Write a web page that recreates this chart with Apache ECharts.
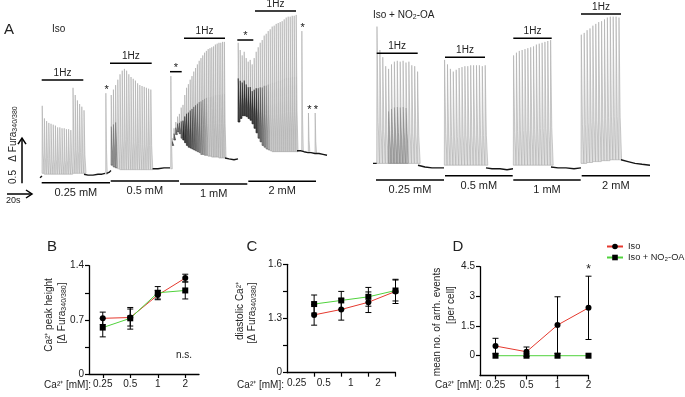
<!DOCTYPE html>
<html>
<head>
<meta charset="utf-8">
<script src="https://cdn.jsdelivr.net/npm/echarts@6.0.0/dist/echarts.min.js"></script>
<style>html,body{margin:0;padding:0;background:#fff;}#chart{width:685px;height:397px;}</style>
</head>
<body>
<div id="chart"></div>
<script>
// ======================= DATA =======================
const concLabels = ['0.25', '0.5', '1', '2'];
const nameIso = 'Iso';
const nameNo2 = 'Iso + NO₂-OA';

// ---- Panel A, Iso cell: paced Ca2+ transients (time along trace, ΔFura340/380) ----
const isoSeg1Start = 4,   isoSeg1Step = 2.2;
const isoSeg1Peaks = [0.88,0.74,0.71,0.69,0.68,0.67,0.66,0.64,0.64,0.63,0.63,0.62,0.62,0.61,1.08,1.00,0.94,0.90,0.87,0.83];
const isoSeg1Bases = [0.13,0.12,0.12,0.12,0.12,0.12,0.12,0.12,0.12,0.12,0.12,0.12,0.12,0.12,0.13,0.13,0.13,0.13,0.13,0.13];
const isoSeg2Start = 73,  isoSeg2Step = 2.2;
const isoSeg2Peaks = [1.00,1.06,1.11,1.17,1.23,1.27,1.29,1.27,1.23,1.20,1.18,1.16,1.13,1.11,1.10,1.09,1.08,1.07,1.06];
const isoSeg2Bases = [0.22,0.20,0.19,0.18,0.17,0.17,0.17,0.17,0.17,0.17,0.17,0.17,0.17,0.17,0.17,0.17,0.17,0.17,0.17];
const isoSeg3Start = 134, isoSeg3Step = 1.8;
const isoSeg3Peaks = [0.52,0.63,0.70,0.76,0.79,0.86,0.89,1.00,1.08,1.12,1.17,1.21,1.26,1.30,1.34,1.38,1.41,1.44,1.47,1.49,1.51,1.52,1.53,1.54,1.56,1.57,1.58,1.58,1.59,1.59];
const isoSeg3Bases = [0.44,0.50,0.56,0.59,0.57,0.52,0.50,0.47,0.44,0.42,0.41,0.40,0.39,0.38,0.37,0.36,0.34,0.34,0.33,0.33,0.32,0.32,0.31,0.31,0.31,0.31,0.30,0.30,0.30,0.30];
const isoSeg4Start = 200, isoSeg4Step = 2;
const isoSeg4Peaks = [1.58,1.50,1.44,1.48,1.41,1.37,1.39,1.34,1.41,1.48,1.53,1.58,1.61,1.66,1.68,1.71,1.73,1.76,1.77,1.79,1.80,1.81,1.82,1.84,1.86,1.87,1.87,1.88,1.88,1.89];
const isoSeg4Bases = [0.70,0.74,0.77,0.77,0.76,0.74,0.72,0.68,0.63,0.58,0.52,0.48,0.44,0.42,0.40,0.39,0.38,0.37,0.37,0.37,0.37,0.37,0.37,0.37,0.37,0.37,0.37,0.37,0.37,0.37];
// spontaneous (arrhythmic) events
const isoEventTimes = [67.7, 132.7, 263.7, 270.3, 277];
const isoEventPeaks = [1.02, 1.21, 1.71, 0.80, 0.80];
const isoEventBases = [0.12, 0.18, 0.38, 0.36, 0.35];
const isoEventMarks = ['*', '', '*', '*', '*'];
// unpaced diastolic stretches
const isoRest0 = [[2,0.08],[4,0.10]];
const isoRest1 = [[46,0.12],[50,0.11],[55,0.11],[60,0.12],[64,0.12],[67,0.13]];
const isoRest2 = [[68.5,0.13],[71,0.14],[73,0.16]];
const isoRest3 = [[114.6,0.18],[120,0.18],[126,0.19],[132,0.19]];
const isoRest4 = [[187,0.30],[191,0.29],[196,0.28],[200,0.29]];
const isoRest5 = [[259,0.38],[263,0.38],[266,0.37],[270,0.36],[273,0.36],[277,0.35],[281,0.35],[285,0.34],[289,0.33]];
// protocol windows
const isoPacing = [[3.7,45.3],[72,113.7],[146,187],[217,258]];
const isoArrWindows = [[132,143.7],[199.3,215.3]];
const isoConcWindows = [[3.7,72],[72.7,141],[142,209.3],[210.3,278]];

// ---- Panel A, Iso + NO2-OA cell ----
const no2Seg1Start = 6.7,   no2Seg1Step = 2.9;
const no2Seg1Peaks = [1.76,1.50,1.42,1.32,1.29,1.34,1.37,1.38,1.37,1.38,1.36,1.37,1.33,1.32,1.26];
const no2Seg1Bases = [0.24,0.24,0.24,0.24,0.24,0.24,0.24,0.24,0.24,0.24,0.24,0.24,0.24,0.24,0.24];
const no2Seg2Start = 74.3,  no2Seg2Step = 2.9;
const no2Seg2Peaks = [1.39,1.34,1.29,1.26,1.28,1.30,1.31,1.32,1.32,1.33,1.33,1.33,1.33,1.32,1.33];
const no2Seg2Bases = [0.22,0.22,0.22,0.22,0.22,0.22,0.22,0.22,0.22,0.22,0.22,0.22,0.22,0.22,0.22];
const no2Seg3Start = 143.3, no2Seg3Step = 2.85;
const no2Seg3Peaks = [1.44,1.47,1.49,1.50,1.51,1.52,1.53,1.54,1.56,1.57,1.58,1.59,1.60,1.61];
const no2Seg3Bases = [0.22,0.22,0.22,0.22,0.22,0.22,0.22,0.22,0.22,0.22,0.22,0.22,0.22,0.22];
const no2Seg4Start = 211,   no2Seg4Step = 2.9;
const no2Seg4Peaks = [1.67,1.69,1.72,1.74,1.77,1.79,1.81,1.82,1.84,1.86,1.87,1.87,1.87,1.86];
const no2Seg4Bases = [0.24,0.24,0.25,0.25,0.26,0.26,0.26,0.27,0.27,0.27,0.28,0.28,0.28,0.28];
const no2Rest0 = [[3,0.24],[6.7,0.24]];
const no2Rest1 = [[48,0.22],[55,0.20],[62,0.19],[68,0.19],[74,0.19]];
const no2Rest2 = [[116,0.19],[122,0.18],[130,0.18],[137,0.17],[143,0.18]];
const no2Rest3 = [[181,0.20],[188,0.19],[196,0.19],[204,0.18],[211,0.19]];
const no2Rest4 = [[251,0.28],[258,0.26],[265,0.24],[272,0.23],[280,0.22]];
const no2Pacing = [[6.7,47.7],[75,115],[143.3,181.7],[211,251]];
const no2ConcWindows = [[6,74],[75,142.7],[143.3,210.7],[211.7,280]];

// ---- Panel B: Ca2+ peak height (mean, SEM) ----
const peakIso = [0.72, 0.73, 1.02, 1.24];
const peakIsoSem = [0.08, 0.11, 0.06, 0.05];
const peakNo2 = [0.60, 0.72, 1.05, 1.08];
const peakNo2Sem = [0.12, 0.14, 0.08, 0.11];
// ---- Panel C: diastolic Ca2+ (read on the expanded upper segment of the broken axis) ----
const diaIso = [1.32, 1.35, 1.39, 1.45];
const diaIsoSem = [0.057, 0.059, 0.057, 0.067];
const diaNo2 = [1.38, 1.40, 1.42, 1.455];
const diaNo2Sem = [0.05, 0.05, 0.052, 0.058];
// ---- Panel D: arrhythmic events per cell ----
const arrIso = [0.49, 0.20, 1.55, 2.42];
const arrIsoSem = [0.39, 0.24, 1.43, 1.60];
const arrNo2 = [0, 0, 0, 0];
const arrNo2Sem = [0, 0, 0, 0];
const arrSig = ['', '', '', '*'];

// ======================= LAYOUT / STYLE =======================
const FONT = '"Liberation Sans", Arial, sans-serif';
const RED = '#e5392e', GREEN = '#50d23c';
const isoPacingLevel = [1.167, 1.352, 1.63, 1.933];
const isoArrLevel = [1.259, 1.611];
const isoConcLevel = [0.026, 0.044, 0.011, 0.041];
const no2PacingLevel = [1.463, 1.419, 1.63, 1.9];
const no2ConcLevel = [0.056, 0.103, 0.056, 0.103];
// darkness of the overlapping (dense) transients
const shadeNone = () => 0;
const shadeIso2 = i => (i < 3 ? 0.3 : 0);
const shadeIso3 = i => (i < 6 ? 0.5 : i < 20 ? Math.max(0.12, 0.8 - (i - 6) * 0.05) : 0.04);
const shadeIso4 = i => (i < 10 ? 0.75 : i < 16 ? 0.55 - (i - 10) * 0.08 : 0.03);
const shadeNo21 = i => (i >= 4 && i < 11 ? 0.2 : 0);

// ======================= BUILD =======================
function segRows(start, step, peaks, bases, shade) {
  return peaks.map((p, i) => [start + i * step, bases[i], p, step, shade(i)]);
}
function spikeItem(params, api) {
  const t = api.value(0), b = api.value(1), p = api.value(2), st = api.value(3), d = api.value(4);
  const p0 = api.coord([t, b]);
  const p1 = api.coord([t + st * 0.1, p]);
  const p2 = api.coord([t + st * 0.5, b + (p - b) * 0.3]);
  const p3 = api.coord([t + st * 1.0, b]);
  const children = [{ type: 'polygon', shape: { points: [p0, p1, p2, p3] },
    style: { fill: '#e0e0e0', stroke: '#a3a3a3', lineWidth: 0.55 } }];
  if (d > 0) {
    const q1 = api.coord([t + st * 0.1, b + (p - b) * 0.55]);
    children.push({ type: 'polygon', shape: { points: [p0, q1, p2, p3] },
      style: { fill: 'rgba(25,25,25,' + d + ')', stroke: 'rgba(0,0,0,' + d + ')', lineWidth: 0.6 } });
  }
  return { type: 'group', children };
}
function spikeSeries(grid, rows) {
  return { type: 'custom', xAxisIndex: grid, yAxisIndex: grid, clip: false, z: 2,
    encode: { x: 0, y: [1, 2] }, data: rows, renderItem: spikeItem, silent: true };
}
function eventSeries(grid, times, peaks, bases, marks) {
  return { type: 'custom', xAxisIndex: grid, yAxisIndex: grid, clip: false, z: 3, silent: true,
    encode: { x: 0, y: [1, 2] },
    data: times.map((t, i) => [t, bases[i], peaks[i], 1.6, 0]),
    renderItem: (params, api) => {
      const g = spikeItem(params, api);
      const top = api.coord([api.value(0), api.value(2)]);
      const m = marks[params.dataIndex];
      if (m) g.children.push({ type: 'text', x: top[0] + 1, y: top[1] - 3,
        style: { text: m, align: 'center', verticalAlign: 'middle', fontSize: 11, fill: '#111', fontFamily: FONT } });
      return g;
    } };
}
function restSeries(grid, pts) {
  return { type: 'line', xAxisIndex: grid, yAxisIndex: grid, data: pts, showSymbol: false, symbol: 'none',
    lineStyle: { color: '#151515', width: 1.4 }, z: 3, silent: true };
}
function barSeries(grid, windows, levels, labelOf, offset, fontSize) {
  return { type: 'custom', xAxisIndex: grid, yAxisIndex: grid, clip: false, z: 4, silent: true,
    encode: { x: [0, 1], y: 2 },
    data: windows.map((w, i) => [w[0], w[1], levels[i]]),
    renderItem: (params, api) => {
      const a = api.coord([api.value(0), api.value(2)]), b = api.coord([api.value(1), api.value(2)]);
      return { type: 'group', children: [
        { type: 'line', shape: { x1: a[0], y1: a[1], x2: b[0], y2: b[1] }, style: { stroke: '#000', lineWidth: 1.5 } },
        { type: 'text', x: (a[0] + b[0]) / 2, y: a[1] + offset,
          style: { text: labelOf(params.dataIndex), align: 'center', verticalAlign: 'middle', fontSize, fill: '#222', fontFamily: FONT } }
      ] };
    } };
}
// scale bars (0.5 ΔFura, time) on the Iso trace axes
const scaleV = [[-16, 0.02, 0.52]];
const scaleH = [[-31, -6, -0.1]];
function scaleSeries() {
  return { type: 'custom', xAxisIndex: 0, yAxisIndex: 0, clip: false, silent: true,
    data: [[scaleV[0][0], scaleV[0][1], scaleV[0][2], scaleH[0][0], scaleH[0][1], scaleH[0][2]]],
    renderItem: (params, api) => {
      const a = api.coord([api.value(0), api.value(1)]), b = api.coord([api.value(0), api.value(2)]);
      const c = api.coord([api.value(3), api.value(5)]), d = api.coord([api.value(4), api.value(5)]);
      const st = { stroke: '#000', lineWidth: 1.5, fill: 'none' };
      return { type: 'group', children: [
        { type: 'line', shape: { x1: a[0], y1: a[1], x2: b[0], y2: b[1] }, style: st },
        { type: 'polyline', shape: { points: [[b[0] - 4, b[1] + 6], [b[0], b[1]], [b[0] + 4, b[1] + 6]] }, style: st },
        { type: 'line', shape: { x1: c[0], y1: c[1], x2: d[0], y2: d[1] }, style: st },
        { type: 'polyline', shape: { points: [[d[0] - 6, d[1] - 4], [d[0], d[1]], [d[0] - 6, d[1] + 4]] }, style: st }
      ] };
    } };
}

function lineSeries(name, vals, grid, color, symbol) {
  return { type: 'line', name, xAxisIndex: grid, yAxisIndex: grid, data: vals.map((v, i) => [i, v]),
    symbol, symbolSize: 6, showSymbol: true, itemStyle: { color: '#000' },
    lineStyle: { color, width: 1 }, z: 5 };
}
function errSeries(vals, sems, grid, sig) {
  return { type: 'custom', xAxisIndex: grid, yAxisIndex: grid, z: 4, clip: false, silent: true,
    encode: { x: 0, y: [1, 2] },
    data: vals.map((v, i) => [i, v - sems[i], v + sems[i]]),
    renderItem: (params, api) => {
      const lo = api.coord([api.value(0), api.value(1)]), hi = api.coord([api.value(0), api.value(2)]);
      const ch = [];
      if (api.value(2) - api.value(1) > 0) {
        const st = { stroke: '#000', lineWidth: 1 };
        ch.push({ type: 'line', shape: { x1: lo[0], y1: lo[1], x2: hi[0], y2: hi[1] }, style: st });
        ch.push({ type: 'line', shape: { x1: lo[0] - 3, y1: lo[1], x2: lo[0] + 3, y2: lo[1] }, style: st });
        ch.push({ type: 'line', shape: { x1: hi[0] - 3, y1: hi[1], x2: hi[0] + 3, y2: hi[1] }, style: st });
      }
      const s = sig ? sig[params.dataIndex] : '';
      if (s) ch.push({ type: 'text', x: hi[0], y: hi[1] - 7,
        style: { text: s, align: 'center', verticalAlign: 'middle', fontSize: 12, fill: '#222', fontFamily: FONT } });
      return { type: 'group', children: ch };
    } };
}

function axisC(o) {
  return {
    type: 'value', gridIndex: o.grid, min: o.min, max: o.max,
    axisLine: { show: true, onZero: false, lineStyle: { color: '#000', width: 1.3 } },
    axisTick: { show: true, inside: false, length: 4, lineStyle: { color: '#000', width: 1.2 }, customValues: o.ticks },
    splitLine: { show: false },
    axisLabel: { color: '#222', fontSize: 10, fontFamily: FONT, margin: o.margin, customValues: o.labels, formatter: o.fmt, rich: o.rich }
  };
}
const xLbl = v => concLabels[Math.round(v)];

const traceX = [
  { type: 'value', gridIndex: 0, min: 0, max: 292, show: false },
  { type: 'value', gridIndex: 1, min: 0, max: 285, show: false }
];
const traceY = [
  { type: 'value', gridIndex: 0, min: 0, max: 2, show: false },
  { type: 'value', gridIndex: 1, min: 0, max: 2, show: false }
];

const option = {
  animation: false,
  textStyle: { fontFamily: FONT },
  grid: [
    { left: 38, top: 5, width: 292, height: 180, outerBoundsMode: 'none' },
    { left: 370, top: 5, width: 285, height: 180, outerBoundsMode: 'none' },
    { left: 89, top: 265.7, width: 110, height: 108.3, outerBoundsMode: 'none' },
    { left: 287, top: 264.3, width: 108.5, height: 108.4, outerBoundsMode: 'none' },
    { left: 480, top: 266.7, width: 108.5, height: 108.8, outerBoundsMode: 'none' }
  ],
  xAxis: traceX.concat([
    axisC({ grid: 2, min: -0.5, max: 3.5, ticks: [0, 1, 2, 3], labels: [0, 1, 2, 3], fmt: xLbl, margin: 5 }),
    axisC({ grid: 3, min: -1, max: 3, ticks: [0, 1, 2, 3], labels: [0, 1, 2, 3], margin: 6,
      fmt: v => '{s|' + xLbl(v) + '}', rich: { s: { padding: [0, 35, 0, 0], fontSize: 10, color: '#222', fontFamily: FONT } } }),
    axisC({ grid: 4, min: -0.5, max: 3, ticks: [0, 1, 2, 3], labels: [0, 1, 2, 3], fmt: xLbl, margin: 5 })
  ]),
  yAxis: traceY.concat([
    axisC({ grid: 2, min: 0, max: 1.4, ticks: [0, 0.35, 0.7, 1.05, 1.4], labels: [0, 0.7, 1.4], fmt: v => String(v), margin: 5 }),
    // broken axis: lower segment 0–1.3 compressed, upper segment 1.3–1.6 expanded
    axisC({ grid: 3, min: 1.0, max: 1.6, ticks: [1.0, 1.15, 1.3, 1.45, 1.6], labels: [1.0, 1.3, 1.6],
      fmt: v => (Math.abs(v - 1) < 1e-9 ? '0' : v.toFixed(1)), margin: 5 }),
    axisC({ grid: 4, min: -1, max: 4.5, ticks: [0, 1.5, 3, 4.5], labels: [0, 1.5, 3, 4.5], fmt: v => String(v), margin: 5 })
  ]),
  legend: {
    data: [nameIso, nameNo2], orient: 'vertical', left: 606, top: 242, padding: 0, itemWidth: 16, itemHeight: 7, itemGap: 2,
    selectedMode: false, textStyle: { fontSize: 9.2, color: '#222', fontFamily: FONT }
  },
  series: [
    spikeSeries(0, segRows(isoSeg1Start, isoSeg1Step, isoSeg1Peaks, isoSeg1Bases, shadeNone)),
    spikeSeries(0, segRows(isoSeg2Start, isoSeg2Step, isoSeg2Peaks, isoSeg2Bases, shadeIso2)),
    spikeSeries(0, segRows(isoSeg3Start, isoSeg3Step, isoSeg3Peaks, isoSeg3Bases, shadeIso3)),
    spikeSeries(0, segRows(isoSeg4Start, isoSeg4Step, isoSeg4Peaks, isoSeg4Bases, shadeIso4)),
    eventSeries(0, isoEventTimes, isoEventPeaks, isoEventBases, isoEventMarks),
    restSeries(0, isoRest0), restSeries(0, isoRest1), restSeries(0, isoRest2),
    restSeries(0, isoRest3), restSeries(0, isoRest4), restSeries(0, isoRest5),
    barSeries(0, isoPacing, isoPacingLevel, () => '1Hz', -7, 10),
    barSeries(0, isoArrWindows, isoArrLevel, () => '*', -4, 11),
    barSeries(0, isoConcWindows, isoConcLevel, i => concLabels[i] + ' mM', 10, 11),
    scaleSeries(),
    spikeSeries(1, segRows(no2Seg1Start, no2Seg1Step, no2Seg1Peaks, no2Seg1Bases, shadeNo21)),
    spikeSeries(1, segRows(no2Seg2Start, no2Seg2Step, no2Seg2Peaks, no2Seg2Bases, shadeNone)),
    spikeSeries(1, segRows(no2Seg3Start, no2Seg3Step, no2Seg3Peaks, no2Seg3Bases, shadeNone)),
    spikeSeries(1, segRows(no2Seg4Start, no2Seg4Step, no2Seg4Peaks, no2Seg4Bases, shadeNone)),
    restSeries(1, no2Rest0), restSeries(1, no2Rest1), restSeries(1, no2Rest2), restSeries(1, no2Rest3), restSeries(1, no2Rest4),
    barSeries(1, no2Pacing, no2PacingLevel, () => '1Hz', -7, 10),
    barSeries(1, no2ConcWindows, no2ConcLevel, i => concLabels[i] + ' mM', 10, 11),
    errSeries(peakIso, peakIsoSem, 2), errSeries(peakNo2, peakNo2Sem, 2),
    lineSeries(nameIso, peakIso, 2, RED, 'circle'), lineSeries(nameNo2, peakNo2, 2, GREEN, 'rect'),
    errSeries(diaIso, diaIsoSem, 3), errSeries(diaNo2, diaNo2Sem, 3),
    lineSeries(nameIso, diaIso, 3, RED, 'circle'), lineSeries(nameNo2, diaNo2, 3, GREEN, 'rect'),
    errSeries(arrIso, arrIsoSem, 4, arrSig), errSeries(arrNo2, arrNo2Sem, 4),
    lineSeries(nameIso, arrIso, 4, RED, 'circle'), lineSeries(nameNo2, arrNo2, 4, GREEN, 'rect')
  ],
  graphic: []
};

// ---- text annotations ----
const SUB = { s: { fontSize: 7, verticalAlign: 'bottom', padding: [5, 0, 0, 0], fontFamily: FONT, fill: '#222' } };
function T(x, y, text, st, rot) {
  return { type: 'text', x, y, rotation: rot || 0, silent: true,
    style: Object.assign({ text, fontSize: 10, fill: '#222', fontFamily: FONT, align: 'center', verticalAlign: 'middle', rich: SUB }, st || {}) };
}
const R90 = Math.PI / 2;
option.graphic = [
  T(4, 30, 'A', { fontSize: 15, align: 'left' }),
  T(52, 29, 'Iso', { align: 'left' }),
  T(373, 15, 'Iso + NO{s|2}-OA', { align: 'left' }),
  T(13, 177, '0.5', {}, R90),
  T(13, 134, 'Δ Fura{s|340/380}', {}, R90),
  T(6, 201, '20s', { fontSize: 9, align: 'left' }),
  T(52, 247, 'B', { fontSize: 15 }),
  T(252, 247, 'C', { fontSize: 15 }),
  T(458, 247, 'D', { fontSize: 15 }),
  T(49, 315, 'Ca²⁺ peak height', {}, R90),
  T(62, 313, '[Δ Fura{s|340/380}]', {}, R90),
  T(240, 311, 'diastolic Ca²⁺', {}, R90),
  T(252, 313, '[Δ Fura{s|340/380}]', {}, R90),
  T(437, 322, 'mean no. of arrh. events', {}, R90),
  T(451, 305, '[per cell]', {}, R90),
  T(91, 385, 'Ca²⁺ [mM]:', { align: 'right' }),
  T(284, 385, 'Ca²⁺ [mM]:', { align: 'right' }),
  T(482, 385, 'Ca²⁺ [mM]:', { align: 'right' }),
  T(184, 355, 'n.s.', {})
];

const chart = echarts.init(document.getElementById('chart'), null, { renderer: 'canvas' });
chart.setOption(option);
</script>
</body>
</html>
